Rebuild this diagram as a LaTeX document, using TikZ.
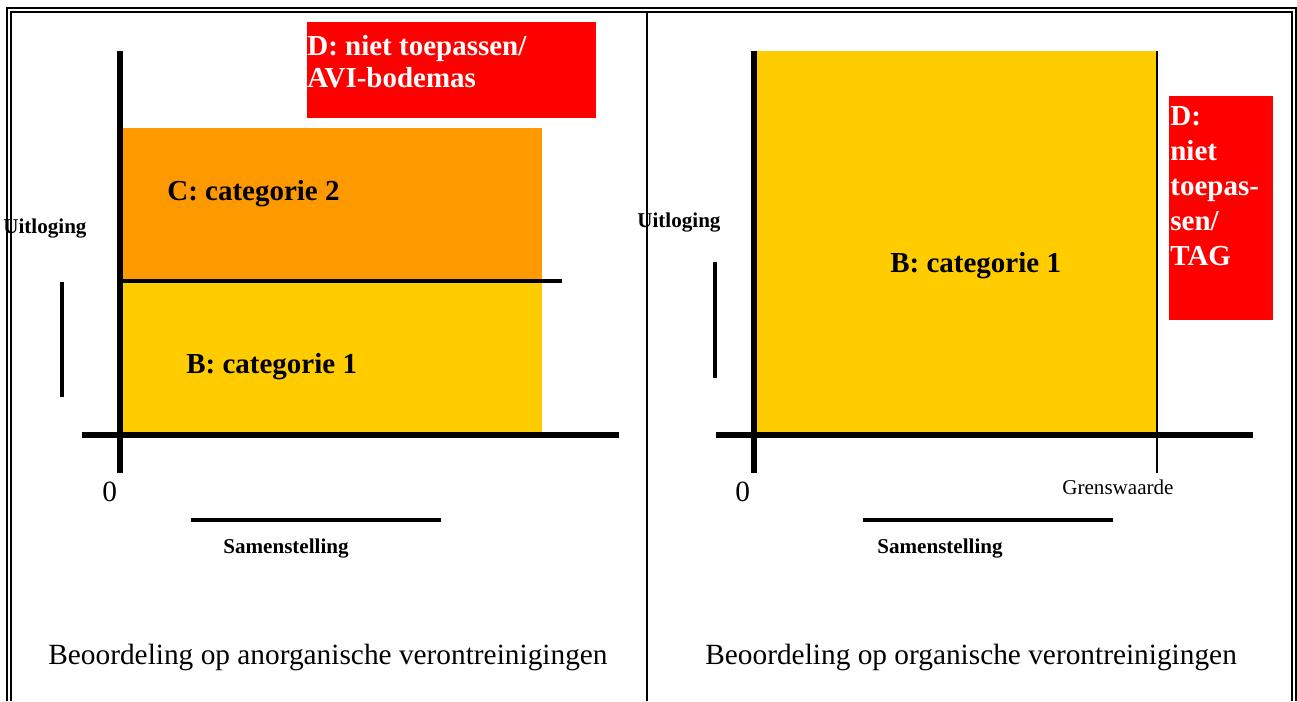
\documentclass[tikz,border=0pt]{standalone}
\usepackage{fontspec}
\setmainfont{Liberation Serif}
\definecolor{catorange}{RGB}{255,153,0}
\definecolor{catyellow}{RGB}{255,204,0}
\definecolor{catred}{RGB}{255,0,0}
\tikzset{
  axisline/.style={line width=3.8pt},
  scaleline/.style={line width=2pt},
  frameline/.style={line width=1.15pt},
  catlabel/.style={anchor=base west,inner sep=0pt,font=\fontsize{16.5}{18}\selectfont\bfseries},
  redlabel/.style={anchor=north west,inner sep=0pt,align=left,text=white},
  axislabel/.style={anchor=base west,inner sep=0pt,font=\fontsize{12}{14}\selectfont\bfseries},
  plainlabel/.style={anchor=base west,inner sep=0pt,font=\fontsize{16.7}{19}\selectfont},
}
\begin{document}
\begin{tikzpicture}[x=0.02cm,y=-0.02cm]
        \useasboundingbox (0,0) rectangle (1297,701);
        % left panel
        \fill[catorange] (120,128) rectangle (542,281);
        \fill[catyellow] (120,281) rectangle (542,432);
        \fill[catred] (307,22) rectangle (596,118);
        \draw[scaleline] (120,281) -- (562,281);
        \draw[axisline] (120,51) -- (120,473);
        \draw[axisline] (82,435) -- (619,435);
        \draw[scaleline] (62,282) -- (62,397);
        \draw[scaleline] (191,520) -- (441,520);
        \node[redlabel,font=\fontsize{16.5}{18.2}\selectfont\bfseries] (dleft) at (307,35) {D: niet toepassen/\\AVI-bodemas};
        \node[catlabel] (cleft) at (167,200) {C: categorie 2};
        \node[catlabel] (bleft) at (186,373) {B: categorie 1};
        \node[axislabel] (uleft) at (3,233) {Uitloging};
        \node[axislabel] (sleft) at (223,553) {Samenstelling};
        \node[plainlabel] (zleft) at (102,501) {0};
        \node[plainlabel] (capleft) at (48,664) {Beoordeling op anorganische verontreinigingen};
        % right panel
        \fill[catyellow] (754,51) rectangle (1157,432);
        \fill[catred] (1169,96) rectangle (1273,320);
        \draw[frameline] (1157,51) -- (1157,473);
        \draw[axisline] (754,51) -- (754,473);
        \draw[axisline] (716,435) -- (1253,435);
        \draw[scaleline] (715,262) -- (715,378);
        \draw[scaleline] (863,520) -- (1113,520);
        \node[redlabel,font=\fontsize{16.5}{19.9}\selectfont\bfseries] (dright) at (1170,106) {D:\\niet\\toepas-\\sen/\\TAG};
        \node[catlabel] (bright) at (890,272) {B: categorie 1};
        \node[axislabel] (uright) at (637,227) {Uitloging};
        \node[axislabel] (sright) at (877,553) {Samenstelling};
        \node[plainlabel] (zright) at (735,501) {0};
        \node[anchor=base west,inner sep=0pt,font=\fontsize{12}{14}\selectfont] (grens) at (1062,494) {Grenswaarde};
        \node[plainlabel] (capright) at (705,664) {Beoordeling op organische verontreinigingen};
        % frame
        \draw[frameline] (7,701) -- (7,8.3) -- (1295.7,8.3) -- (1295.7,701);
        \draw[frameline] (11,701) -- (11,12.3) -- (1292.3,12.3) -- (1292.3,701);
        \draw[frameline] (646.7,12.3) -- (646.7,701);
\end{tikzpicture}
\end{document}
